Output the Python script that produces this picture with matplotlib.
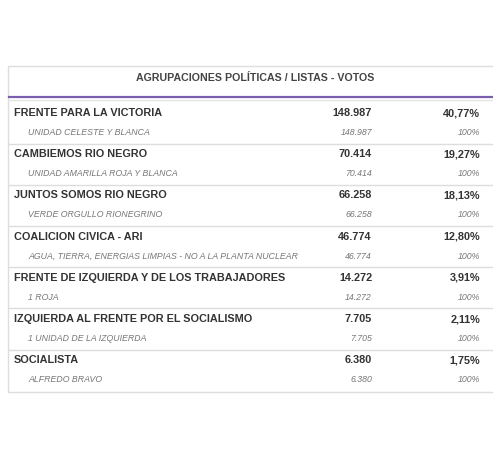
import matplotlib
matplotlib.use("Agg")
import matplotlib.pyplot as plt
from matplotlib.patches import Rectangle

parties = ["FRENTE PARA LA VICTORIA", "CAMBIEMOS RIO NEGRO", "JUNTOS SOMOS RIO NEGRO",
           "COALICION CIVICA - ARI", "FRENTE DE IZQUIERDA Y DE LOS TRABAJADORES",
           "IZQUIERDA AL FRENTE POR EL SOCIALISMO", "SOCIALISTA"]
lists = ["UNIDAD CELESTE Y BLANCA", "UNIDAD AMARILLA ROJA Y BLANCA", "VERDE ORGULLO RIONEGRINO",
         "AGUA, TIERRA, ENERGIAS LIMPIAS - NO A LA PLANTA NUCLEAR", "1 ROJA",
         "1 UNIDAD DE LA IZQUIERDA", "ALFREDO BRAVO"]
votes = ["148.987", "70.414", "66.258", "46.774", "14.272", "7.705", "6.380"]
pcts = ["40,77%", "19,27%", "18,13%", "12,80%", "3,91%", "2,11%", "1,75%"]
list_votes = votes
list_pcts = ["100%"] * 7
title = "AGRUPACIONES POLÍTICAS / LISTAS - VOTOS"

fig = plt.figure(figsize=(4.93, 4.68), dpi=100)
ax = fig.add_axes([0, 0, 1, 1])
ax.set_xlim(0, 493); ax.set_ylim(468, 0); ax.axis("off")

ax.add_patch(Rectangle((8, 66), 490, 326, fill=False, ec="#dddddd", lw=1))
ax.text(255, 78, title, ha="center", va="center", fontsize=7.7, color="#444444",
        family="Liberation Sans", fontweight="bold")
ax.plot([9, 493], [96.5, 96.5], color="#7b5fae", lw=1.6)
ax.plot([9, 493], [100, 100], color="#e4e4e4", lw=1)

pitch = 41.2
for i in range(len(parties)):
    y0 = 113 + i * pitch
    for x, s, ha in [(14, parties[i], "left"), (372, votes[i], "right"), (480, pcts[i], "right")]:
        ax.text(x, y0, s, ha=ha, va="center", fontsize=7.8, color="#333333",
                family="Liberation Sans", fontweight="bold")
    y1 = y0 + 19.5
    for x, s, ha in [(28, lists[i], "left"), (372, list_votes[i], "right"), (480, list_pcts[i], "right")]:
        ax.text(x, y1, s, ha=ha, va="center", fontsize=6.3, color="#777777",
                family="Liberation Sans", style="italic")
    if i < len(parties) - 1:
        ax.plot([9, 493], [y0 + 30.5, y0 + 30.5], color="#dddddd", lw=1)

fig.savefig("out.png", dpi=100, facecolor="white")
